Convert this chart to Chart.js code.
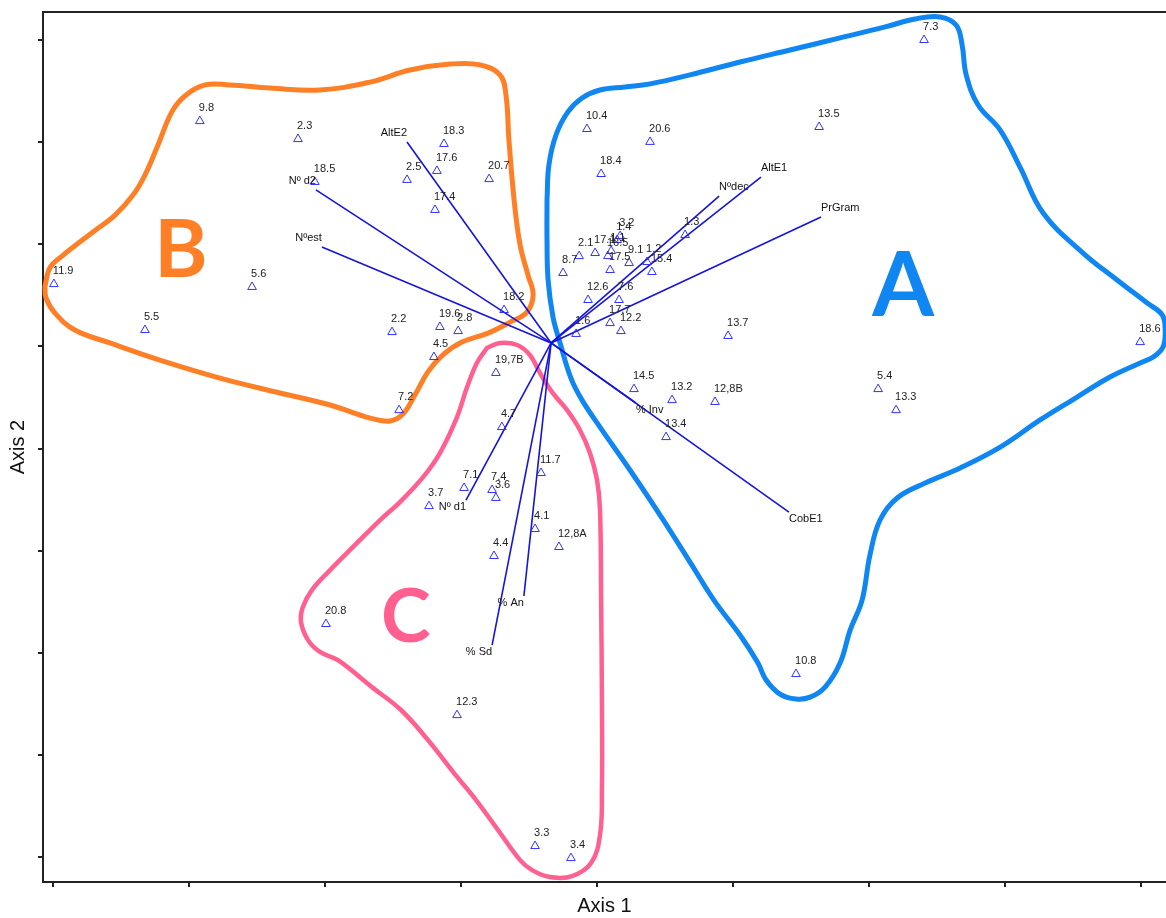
<!DOCTYPE html>
<html>
<head>
<meta charset="utf-8">
<title>Ordination biplot</title>
<script src="https://cdn.jsdelivr.net/npm/chart.js@4.4.1/dist/chart.umd.min.js"></script>
<style>
  html, body { margin: 0; padding: 0; background: #ffffff; overflow: hidden; }
  #wrap { width: 1166px; height: 918px; position: relative; }
</style>
</head>
<body>
<div id="wrap"><canvas id="biplot"></canvas></div>
<script>
// ---- Sample scores (Axis 1, Axis 2) ----
const siteLabels = ['7.3','9.8','2.3','10.4','20.6','13.5','18.3','17.6','2.5','20.7','18.5','18.4','17.4',
  '11.9','5.6','5.5','18.2','2.2','19.6','2.8','4.5','7.2','19,7B','4.7','7.1','7.4','3.6','3.7','11.7',
  '4.1','12,8A','4.4','20.8','12.3','3.3','3.4','10.8','18.6','5.4','13.3','13.7','14.5','13.2','12,8B',
  '13.4','12.2','17.7','7.6','1.6','12.6','8.7','2.1','17.1','16.5','1.1','1.4','3.2','17.5','9.1','1.2',
  '15.4','1.3'];
const siteX = [1.203,-1.461,-1.100,-0.037,0.195,0.817,-0.563,-0.589,-0.699,-0.397,-1.038,0.015,-0.596,
  -1.998,-1.269,-1.663,-0.342,-0.754,-0.578,-0.511,-0.600,-0.728,-0.372,-0.350,-0.489,-0.386,-0.372,-0.618,-0.206,
  -0.228,-0.140,-0.379,-0.997,-0.515,-0.228,-0.096,0.732,1.998,1.034,1.100,0.482,0.136,0.276,0.434,
  0.254,0.088,0.048,0.081,-0.077,-0.033,-0.125,-0.066,-0.007,0.040,0.052,0.074,0.085,0.048,0.118,0.184,
  0.202,0.324];
const siteY = [2.000,1.603,1.515,1.564,1.501,1.574,1.491,1.359,1.315,1.319,1.305,1.344,1.168,
  0.805,0.791,0.580,0.678,0.570,0.595,0.575,0.448,0.188,0.370,0.105,-0.193,-0.203,-0.242,-0.282,-0.120,
  -0.394,-0.482,-0.526,-0.859,-1.305,-1.946,-2.005,-1.104,0.521,0.291,0.188,0.551,0.291,0.237,0.228,
  0.056,0.575,0.614,0.727,0.561,0.727,0.859,0.942,0.957,0.942,0.967,1.021,1.040,0.874,0.908,0.913,
  0.864,1.045];

// ---- Environmental vectors (drawn from the centroid) ----
const vectorOrigin = { x: -0.169, y: 0.517 };
const vectorNames = ['AltE2','Nº d2','Nºest','Nºdec','AltE1','PrGram','% Inv','CobE1','Nº d1','% An','% Sd'];
const vectorX = [-0.699,-1.034,-1.012,0.449,0.603,0.824,0.143,0.706,-0.482,-0.269,-0.386];
const vectorY = [1.501,1.266,0.987,1.236,1.329,1.133,0.223,-0.311,-0.252,-0.722,-0.962];

// ---- Axis ticks (unlabelled) ----
const xTickValues = [-2,-1.5,-1,-0.5,0,0.5,1,1.5,2];
const yTickValues = [-2,-1.5,-1,-0.5,0,0.5,1,1.5,2];

// ---- Group outlines ----
const hullA = [[-0.184,1.217],[-0.177,1.388],[-0.151,1.535],[-0.107,1.648],[-0.055,1.716],[0.011,1.755],
  [0.103,1.770],[0.195,1.785],[0.342,1.829],[0.526,1.892],[0.710,1.951],[0.894,2.010],[1.060,2.064],
  [1.170,2.103],[1.262,2.113],[1.321,2.073],[1.343,1.976],[1.358,1.829],[1.402,1.682],[1.483,1.559],
  [1.556,1.378],[1.641,1.153],[1.788,0.957],[1.913,0.825],[2.024,0.712],[2.079,0.654],[2.090,0.580],
  [2.082,0.497],[2.046,0.448],[1.998,0.419],[1.887,0.350],[1.766,0.252],[1.630,0.140],[1.483,0.007],
  [1.336,-0.095],[1.207,-0.169],[1.104,-0.242],[1.041,-0.350],[1.004,-0.521],[0.975,-0.742],[0.931,-0.889],
  [0.894,-1.050],[0.839,-1.168],[0.784,-1.217],[0.732,-1.226],[0.673,-1.202],[0.622,-1.133],[0.592,-1.050],
  [0.526,-0.913],[0.430,-0.742],[0.342,-0.556],[0.232,-0.326],[0.121,-0.105],[0.011,0.105],[-0.055,0.237],
  [-0.096,0.345],[-0.136,0.517],[-0.162,0.644],[-0.180,0.825],[-0.184,1.021]];
const hullB = [[-2.031,0.791],[-2.013,0.884],[-1.968,0.942],[-1.854,1.060],[-1.773,1.143],[-1.707,1.241],
  [-1.663,1.339],[-1.615,1.486],[-1.564,1.648],[-1.516,1.726],[-1.442,1.780],[-1.350,1.780],[-1.203,1.765],
  [-1.019,1.755],[-0.835,1.794],[-0.688,1.853],[-0.541,1.882],[-0.430,1.878],[-0.357,1.829],[-0.335,1.731],
  [-0.324,1.510],[-0.305,1.217],[-0.283,0.996],[-0.254,0.849],[-0.235,0.752],[-0.258,0.668],[-0.320,0.619],
  [-0.401,0.565],[-0.497,0.521],[-0.567,0.458],[-0.622,0.375],[-0.670,0.262],[-0.714,0.169],[-0.762,0.135],
  [-0.835,0.149],[-0.982,0.213],[-1.166,0.272],[-1.387,0.345],[-1.608,0.433],[-1.792,0.517],[-1.921,0.580],
  [-1.994,0.663],[-2.027,0.737]];
const hullC = [[-0.405,0.492],[-0.357,0.517],[-0.294,0.507],[-0.247,0.458],[-0.210,0.370],[-0.166,0.277],
  [-0.110,0.188],[-0.063,0.091],[-0.026,-0.022],[0.000,-0.154],[0.011,-0.301],[0.015,-0.742],[0.018,-1.231],
  [0.018,-1.672],[0.011,-1.892],[-0.022,-2.029],[-0.092,-2.093],[-0.173,-2.098],[-0.239,-2.064],[-0.283,-2.015],
  [-0.364,-1.868],[-0.445,-1.721],[-0.526,-1.589],[-0.622,-1.427],[-0.721,-1.280],[-0.828,-1.168],
  [-0.953,-1.036],[-1.019,-0.996],[-1.063,-0.938],[-1.089,-0.849],[-1.082,-0.776],[-1.049,-0.693],
  [-0.982,-0.595],[-0.890,-0.472],[-0.798,-0.350],[-0.725,-0.262],[-0.640,-0.140],[-0.578,-0.022],
  [-0.515,0.154],[-0.478,0.301],[-0.442,0.419]];

// Group letters and where they sit (Axis 1, Axis 2)
const groupNames = ['A', 'B', 'C'];
const groupAt = [[1.126, 0.805], [-1.531, 0.982], [-0.703, -0.815]];

// ---- Styling ----
const groupColors = ['#0f86f2', '#ff7f27', '#ff6090'];
const groupFontSize = [89, 81, 75];
const hullWidths = [5, 5, 4.5];
const vectorColor = '#1414dc';
const pointColor = '#3030ff';
const textFont = '11px "Liberation Sans", Arial, sans-serif';

const toXY = (xs, ys) => xs.map((x, i) => ({ x, y: ys[i] }));
const closedPath = arr => {
  const p = arr.map(([x, y]) => ({ x, y }));
  p.push({ ...p[0] });
  return p;
};

const datasets = [];
// sample triangles (first dataset is painted last, i.e. on top)
datasets.push({
  kind: 'sites',
  data: toXY(siteX, siteY),
  showLine: false,
  pointStyle: 'triangle',
  pointRadius: 5,
  pointBorderWidth: 1,
  pointBorderColor: pointColor,
  pointBackgroundColor: 'rgba(255,255,255,0)'
});
// vectors
vectorNames.forEach((name, i) => {
  datasets.push({
    kind: 'vector',
    name,
    data: [{ ...vectorOrigin }, { x: vectorX[i], y: vectorY[i] }],
    showLine: true,
    borderColor: vectorColor,
    borderWidth: 1.6,
    pointRadius: 0,
    tension: 0
  });
});
// group outlines
[hullA, hullB, hullC].forEach((h, i) => {
  datasets.push({
    kind: 'hull',
    data: closedPath(h),
    showLine: true,
    borderColor: groupColors[i],
    borderWidth: hullWidths[i],
    borderCapStyle: 'round',
    borderJoinStyle: 'round',
    pointRadius: 0,
    tension: 0.4,
    clip: false
  });
});

// Big group letters behind everything
const groupLetterPlugin = {
  id: 'groupLetters',
  beforeDatasetsDraw(chart) {
    const { ctx, scales: { x, y } } = chart;
    ctx.save();
    ctx.textAlign = 'center';
    ctx.textBaseline = 'alphabetic';
    groupNames.forEach((g, i) => {
      const size = groupFontSize[i];
      ctx.font = 'bold ' + size + 'px Lato, "Open Sans", sans-serif';
      ctx.fillStyle = groupColors[i];
      const px = x.getPixelForValue(groupAt[i][0]);
      const py = y.getPixelForValue(groupAt[i][1]) + size * 0.358;
      ctx.fillText(g, px, py);
    });
    ctx.restore();
  }
};

// Sample names and vector names
const labelPlugin = {
  id: 'markLabels',
  afterDatasetsDraw(chart) {
    const { ctx } = chart;
    ctx.save();
    ctx.font = textFont;
    ctx.textBaseline = 'middle';
    chart.data.datasets.forEach((ds, di) => {
      const meta = chart.getDatasetMeta(di);
      if (ds.kind === 'sites') {
        ctx.fillStyle = '#222222';
        ctx.textAlign = 'left';
        meta.data.forEach((el, i) => {
          ctx.fillText(siteLabels[i], el.x - 1, el.y - 13);
        });
      } else if (ds.kind === 'vector') {
        const a = meta.data[0], b = meta.data[1];
        const dx = b.x - a.x, dy = b.y - a.y;
        ctx.fillStyle = '#111111';
        ctx.textAlign = dx < 0 ? 'right' : 'left';
        ctx.fillText(ds.name, b.x, dy < 0 ? b.y - 9 : b.y + 7);
      }
    });
    ctx.restore();
  }
};

// Frame line along the top of the plot area
const topFramePlugin = {
  id: 'topFrame',
  afterDraw(chart) {
    const { ctx, chartArea } = chart;
    ctx.save();
    ctx.strokeStyle = '#222222';
    ctx.lineWidth = 2;
    ctx.beginPath();
    ctx.moveTo(chartArea.left - 1, chartArea.top);
    ctx.lineTo(chartArea.right, chartArea.top);
    ctx.stroke();
    ctx.restore();
  }
};

const axisTitleFont = { family: '"Liberation Sans", Arial, sans-serif', size: 20, weight: 'normal', lineHeight: 1.2 };

new Chart(document.getElementById('biplot'), {
  type: 'scatter',
  data: { datasets },
  options: {
    responsive: true,
    maintainAspectRatio: false,
    animation: false,
    events: [],
    devicePixelRatio: 1,
    layout: { autoPadding: false, padding: { top: 12, right: 0, bottom: 0, left: 0 } },
    plugins: {
      legend: { display: false },
      tooltip: { enabled: false }
    },
    scales: {
      x: {
        type: 'linear',
        position: 'bottom',
        min: -2.038,
        max: 2.093,
        afterBuildTicks: s => { s.ticks = xTickValues.map(v => ({ value: v })); },
        afterFit: s => { s.height = 36; },
        ticks: { display: false },
        grid: { drawOnChartArea: false, drawTicks: true, tickLength: 5, color: '#222222', lineWidth: 2 },
        border: { display: true, color: '#222222', width: 2 },
        title: { display: true, text: 'Axis 1', color: '#111111', font: axisTitleFont, padding: { top: 0, bottom: 0 } }
      },
      y: {
        type: 'linear',
        position: 'left',
        min: -2.122,
        max: 2.137,
        afterBuildTicks: s => { s.ticks = yTickValues.map(v => ({ value: v })); },
        afterFit: s => { s.width = 43; },
        ticks: { display: false },
        grid: { drawOnChartArea: false, drawTicks: true, tickLength: 5, color: '#222222', lineWidth: 2 },
        border: { display: true, color: '#222222', width: 2 },
        title: { display: true, text: 'Axis 2', color: '#111111', font: axisTitleFont, padding: { top: 6, bottom: 0 } }
      }
    }
  },
  plugins: [groupLetterPlugin, labelPlugin, topFramePlugin]
});
</script>
</body>
</html>
